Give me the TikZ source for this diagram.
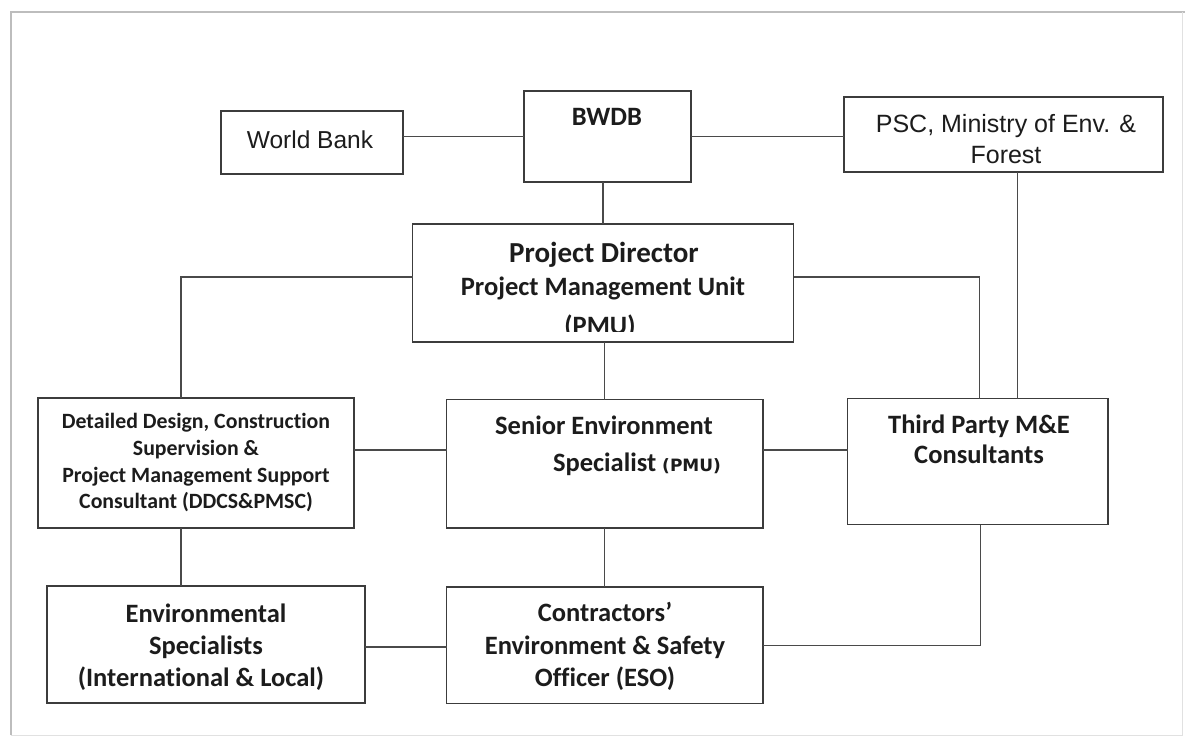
\documentclass[tikz,border=0pt]{standalone}
\usepackage{fontspec}
\setmainfont{Carlito}[Ligatures=NoCommon]
\newfontfamily\arialf{Liberation Sans}
\newfontfamily\verdf{DejaVu Sans}
\definecolor{linec}{HTML}{3C3C3C}
\definecolor{connc}{HTML}{4A4A4A}
\definecolor{textc}{HTML}{1C1C1C}
\definecolor{framec}{HTML}{BDBDBD}
\begin{document}
\begin{tikzpicture}[x=1pt,y=-1pt,
  box/.style={draw=linec,line width=1.6pt,inner sep=0pt,outer sep=0pt,fill=white},
  conn/.style={draw=connc,line width=1.4pt},
  lbl/.style={anchor=base,inner sep=0pt,outer sep=0pt,text=textc,font=\bfseries\fontsize{26.5}{31}\selectfont},
  small/.style={lbl,font=\bfseries\fontsize{21.8}{26}\selectfont},
  plain/.style={anchor=base,inner sep=0pt,outer sep=0pt,text=textc,font=\arialf\fontsize{24.5}{29}\selectfont}]
\useasboundingbox (0,0) rectangle (1185,738);
\fill[white] (0,0) rectangle (1185,738);
% frame
\draw[framec,line width=1.4pt] (11,735) -- (11,12) -- (1185,12);
\draw[framec!45,line width=1pt] (11,735) -- (1182,735) -- (1182,12);

% boxes
\node[box,minimum width=182pt,minimum height=63pt] (wb) at (312,142.5) {};
\node[box,minimum width=167pt,minimum height=91pt] (bwdb) at (607.5,136.5) {};
\node[box,minimum width=319pt,minimum height=75pt] (psc) at (1003.5,134.5) {};
\node[box,minimum width=381pt,minimum height=117.5pt] (pd) at (603,283) {};
\node[box,minimum width=316pt,minimum height=129.5pt] (ddcs) at (196,463) {};
\node[box,minimum width=316.5pt,minimum height=128.5pt] (ses) at (604.75,463.75) {};
\node[box,minimum width=260.5pt,minimum height=126pt] (tp) at (977.75,461.5) {};
\node[box,minimum width=318pt,minimum height=117pt] (es) at (206,644.5) {};
\node[box,minimum width=316.5pt,minimum height=116.5pt] (eso) at (604.75,645.25) {};

% connectors
\draw[conn] (wb.east |- bwdb.west) -- (bwdb.west);
\draw[conn] (bwdb.east) -- (psc.west |- bwdb.east);
\draw[conn] (pd.north |- bwdb.south) -- (pd.north);
\draw[conn] ([yshift=6pt]pd.west) -| ([xshift=-15pt]ddcs.north);
\draw[conn] ([yshift=6pt]pd.east) -| ([xshift=2pt]tp.north);
\draw[conn] ([xshift=14pt]psc.south) -- ([xshift=14pt]psc.south |- tp.north);
\draw[conn] (ses.north |- pd.south) -- (ses.north);
\draw[conn] ([yshift=13pt]ddcs.east) -- ([yshift=13pt]ddcs.east -| ses.west);
\draw[conn] ([yshift=13.75pt]ses.east) -- ([yshift=13.75pt]ses.east -| tp.west);
\draw[conn] ([xshift=-15pt]ddcs.south) -- ([xshift=-15pt]ddcs.south |- es.north);
\draw[conn] (ses.south) -- (eso.north);
\draw[conn] ([yshift=-2.5pt]es.east) -- ([yshift=-2.5pt]es.east -| eso.west);
\draw[conn] ([xshift=3pt]tp.south) |- (eso.east);

% texts
\node[lbl] (t-bwdb) at (607,126) {BWDB};
\node[plain] (t-wb) at (310,149) {World Bank};
\node[plain,font=\arialf\fontsize{25}{29}\selectfont] (t-psc1) at (1006,133) {PSC, Ministry of Env. \&};
\node[plain,font=\arialf\fontsize{25}{29}\selectfont] (t-psc2) at (1006,164) {Forest};

\node[lbl,font=\bfseries\fontsize{29}{33}\selectfont] (t-pd1) at (604,262) {Project Director};
\node[lbl] (t-pd2) at (603,295) {Project Management Unit};
\begin{scope}
\clip (420,300) rectangle (790,331);
\node[lbl] (t-pd3) at (600,334) {(PMU)};
\end{scope}

\node[lbl] (t-ses1) at (604,434) {Senior Environment};
\node[lbl,anchor=base west] (t-ses2) at (553,471) {Specialist {\verdf\bfseries\fontsize{17}{20}\selectfont (PMU)}};

\node[small] (t-dd1) at (196,428) {Detailed Design, Construction};
\node[small] (t-dd2) at (196,455) {Supervision \&};
\node[small] (t-dd3) at (196,482) {Project Management Support};
\node[small] (t-dd4) at (196,508) {Consultant (DDCS\&PMSC)};

\node[lbl] (t-tp1) at (979,433.5) {Third Party M\&E};
\node[lbl] (t-tp2) at (979,463) {Consultants};

\node[lbl] (t-es1) at (206,622) {Environmental};
\node[lbl] (t-es2) at (206,654) {Specialists};
\node[lbl] (t-es3) at (201,686) {(International \& Local)};

\node[lbl] (t-eso1) at (605,621) {Contractors’};
\node[lbl] (t-eso2) at (605,654) {Environment \& Safety};
\node[lbl] (t-eso3) at (605,686) {Officer (ESO)};
\end{tikzpicture}
\end{document}
